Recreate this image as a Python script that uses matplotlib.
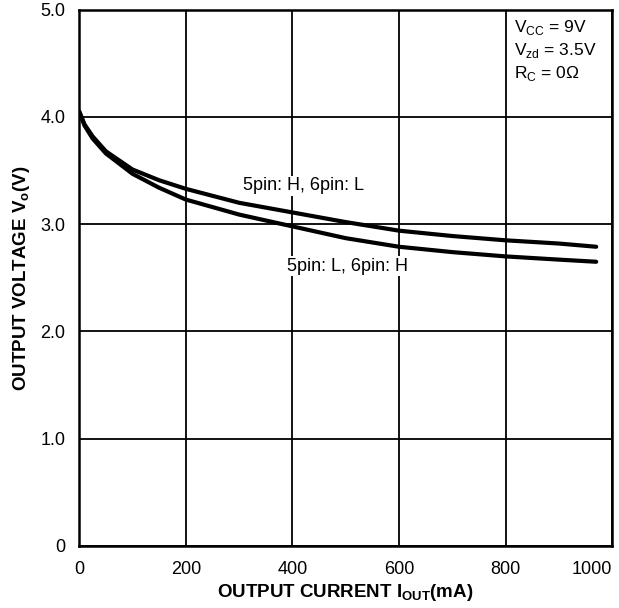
import numpy as np
import matplotlib
matplotlib.use('Agg')
import matplotlib.pyplot as plt

plt.rcParams['font.family'] = ['Liberation Sans', 'DejaVu Sans']
plt.rcParams['mathtext.fontset'] = 'custom'
plt.rcParams['mathtext.rm'] = 'Liberation Sans'
plt.rcParams['mathtext.bf'] = 'Liberation Sans:bold'

# output current (mA) and output voltage (V)
current = [0, 10, 25, 50, 100, 150, 200, 300, 400, 500, 600, 700, 800, 900, 970]
v_5h_6l = [4.05, 3.93, 3.82, 3.68, 3.51, 3.41, 3.33, 3.20, 3.11, 3.02, 2.94, 2.89, 2.85, 2.82, 2.79]
v_5l_6h = [4.05, 3.92, 3.80, 3.66, 3.47, 3.34, 3.23, 3.09, 2.98, 2.87, 2.79, 2.74, 2.70, 2.67, 2.65]

x_ticks = [0, 200, 400, 600, 800, 1000]
y_ticks = [0, 1.0, 2.0, 3.0, 4.0, 5.0]
y_tick_labels = ['0', '1.0', '2.0', '3.0', '4.0', '5.0']

fig = plt.figure(figsize=(6.19, 6.08), dpi=100)
ax = fig.add_axes([0.128, 0.102, 0.861, 0.882])

ax.plot(current, v_5h_6l, color='black', lw=3, solid_capstyle='round', zorder=3)
ax.plot(current, v_5l_6h, color='black', lw=3, solid_capstyle='round', zorder=3)

ax.set_xlim(0, 1000)
ax.set_ylim(0, 5.0)
ax.set_xticks(x_ticks)
ax.set_yticks(y_ticks)
ax.set_yticklabels(y_tick_labels)
ax.tick_params(length=0, labelsize=13, pad=11)
ax.tick_params(axis='y', pad=10)
# last label sits inside the frame like on the datasheet
ax.get_xticklabels()[-1].set_horizontalalignment('right')
ax.grid(True, color='black', lw=1.3)
for s in ax.spines.values():
    s.set_linewidth(1.8)

ax.set_xlabel(r'OUTPUT CURRENT $\mathbf{I_{OUT}}$(mA)', fontsize=13.5, fontweight='bold', labelpad=3)
ax.set_ylabel(r'OUTPUT VOLTAGE $\mathbf{V_{o}}$(V)', fontsize=13.5, fontweight='bold', labelpad=6)

box = dict(facecolor='white', edgecolor='none', pad=1)
ax.text(308, 3.36, '5pin: H, 6pin: L', fontsize=13, ha='left', va='center', bbox=box, zorder=4)
ax.text(390, 2.61, '5pin: L, 6pin: H', fontsize=13, ha='left', va='center', bbox=box, zorder=4)

ax.text(815, 4.83, r'V$_{\mathrm{CC}}$ = 9V', fontsize=12.5, ha='left', va='center')
ax.text(815, 4.62, r'V$_{\mathrm{zd}}$ = 3.5V', fontsize=12.5, ha='left', va='center')
ax.text(815, 4.41, r'R$_{\mathrm{C}}$ = 0$\Omega$', fontsize=12.5, ha='left', va='center')

fig.savefig('out.png', dpi=100)
